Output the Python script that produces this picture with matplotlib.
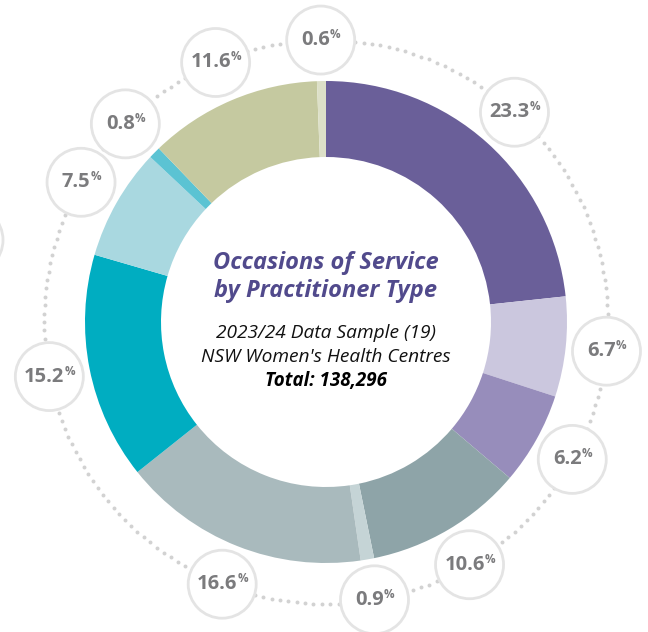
import numpy as np
import matplotlib
matplotlib.use('Agg')
import matplotlib.pyplot as plt
from matplotlib.patches import Circle

# Occasions of service by practitioner type (share in %), clockwise from 12 o'clock
values = [23.3, 6.7, 6.2, 10.6, 0.9, 16.6, 15.2, 7.5, 0.8, 11.6, 0.6]
labels = ['23.3', '6.7', '6.2', '10.6', '0.9', '16.6', '15.2', '7.5', '0.8', '11.6', '0.6']
colors = ['#6a5f99', '#cbc7de', '#978dbb', '#8ea4a8', '#c5d4d6', '#a9babd',
          '#00adc1', '#a9d8e0', '#5bc3d3', '#c5c9a0', '#dde0c8']

title_lines = ['Occasions of Service', 'by Practitioner Type']
sub_lines = ['2023/24 Data Sample (19)', "NSW Women's Health Centres"]
total_line = 'Total: 138,296'

W, H = 648, 632
cx, cy = 326, H - 322
r_out, r_in = 241, 165
r_lab, r_circ = 282, 34

fig = plt.figure(figsize=(W / 100, H / 100), dpi=100)
ax = fig.add_axes([0, 0, 1, 1])
ax.set_xlim(0, W)
ax.set_ylim(0, H)
ax.set_aspect('equal')
ax.axis('off')

# dotted ring behind the label bubbles
ang = np.linspace(0, 2 * np.pi, 210, endpoint=False)
ax.scatter(cx + r_lab * np.cos(ang), cy + r_lab * np.sin(ang), s=8,
           color='#d2d2d2', lw=0, zorder=1)

ax.pie(values, colors=colors, startangle=90, counterclock=False,
       center=(cx, cy), radius=r_out, frame=True,
       wedgeprops=dict(width=r_out - r_in, linewidth=0))
ax.set_xlim(0, W)
ax.set_ylim(0, H)
ax.axis('off')

# label bubbles at the wedge midpoints
cum = np.cumsum([0] + values[:-1])
for v, c0, lab in zip(values, cum, labels):
    mid = (c0 + v / 2) / 100 * 2 * np.pi
    x = cx + r_lab * np.sin(mid)
    y = cy + r_lab * np.cos(mid)
    ax.add_patch(Circle((x, y), r_circ, facecolor='white', edgecolor='#e4e4e4',
                        lw=2, zorder=3))
    t = ax.text(x - 5, y, lab, ha='center', va='center', fontsize=14.5,
                fontweight='bold', color='#7b7b7d', family='Open Sans', zorder=4)
    ax.annotate('%', xy=(1.0, 0.45), xycoords=t, ha='left', va='bottom',
                fontsize=8.5, fontweight='bold', color='#7b7b7d',
                family='Open Sans', zorder=4)

# bubble cut off at the left edge
ax.add_patch(Circle((-31, H - 240), r_circ, facecolor='white', edgecolor='#e4e4e4',
                    lw=2, zorder=3, clip_on=True))

# centre text
ax.text(cx, H - 263, title_lines[0], ha='center', va='center', fontsize=17,
        fontweight='bold', style='italic', color='#514a8c', family='Open Sans')
ax.text(cx, H - 291, title_lines[1], ha='center', va='center', fontsize=17,
        fontweight='bold', style='italic', color='#514a8c', family='Open Sans')
ax.text(cx, H - 333, sub_lines[0], ha='center', va='center', fontsize=13.8,
        style='italic', color='#111111', family='Open Sans')
ax.text(cx, H - 357, sub_lines[1], ha='center', va='center', fontsize=13.8,
        style='italic', color='#111111', family='Open Sans')
ax.text(cx, H - 381, total_line, ha='center', va='center', fontsize=13.5,
        fontweight='bold', style='italic', color='#000000', family='Open Sans')

fig.savefig('out.png', dpi=100)
